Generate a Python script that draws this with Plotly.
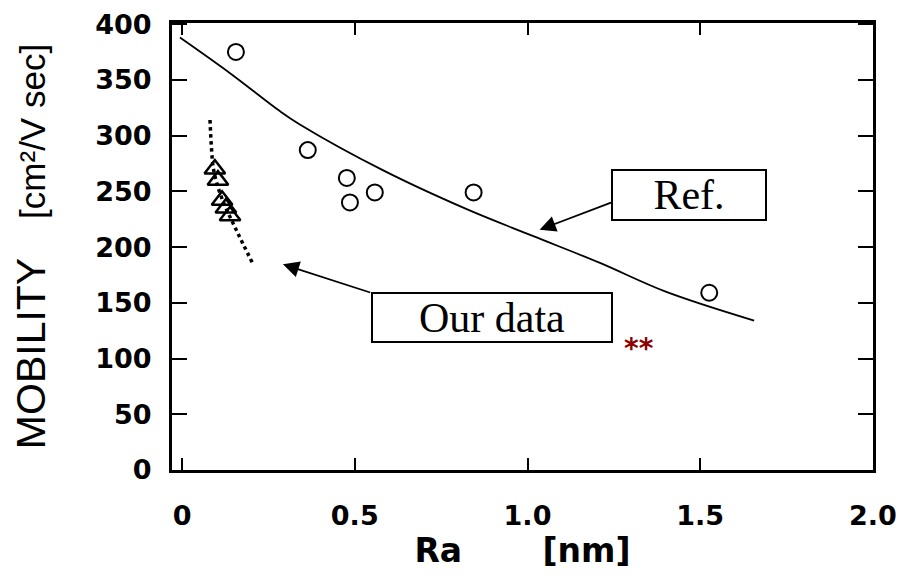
import plotly.graph_objects as go

# Reference data (circles) and reference curve
ref_x = [0.156, 0.364, 0.477, 0.486, 0.558, 0.844, 1.526]
ref_y = [375, 287, 262, 240, 249, 249, 159]

curve_x = [-0.006, 0.139, 0.283, 0.341, 0.581, 0.824, 1.015, 1.208, 1.40, 1.656]
curve_y = [388, 356, 322, 310, 269, 234, 210, 186, 160, 134]

# Our data (triangles) and dotted trend
our_x = [0.095, 0.104, 0.116, 0.127, 0.139]
our_y = [270, 260, 242, 235, 228]

trend_x = [0.081, 0.085, 0.090, 0.100, 0.120, 0.156, 0.205]
trend_y = [314, 290, 272, 258, 240, 216, 185]

x_ticks = [0, 0.5, 1.0, 1.5, 2.0]
x_labels = ["0", "0.5", "1.0", "1.5", "2.0"]
y_ticks = [0, 50, 100, 150, 200, 250, 300, 350, 400]

fig = go.Figure()

fig.add_trace(go.Scatter(x=curve_x, y=curve_y, mode="lines",
                         line=dict(color="black", width=1.8, shape="spline"),
                         showlegend=False, hoverinfo="skip"))
fig.add_trace(go.Scatter(x=trend_x, y=trend_y, mode="lines",
                         line=dict(color="black", width=3.5, dash="dot", shape="spline"),
                         showlegend=False, hoverinfo="skip"))
fig.add_trace(go.Scatter(x=ref_x, y=ref_y, mode="markers",
                         marker=dict(symbol="circle-open", size=16, color="black",
                                     line=dict(width=2)),
                         showlegend=False))
fig.add_trace(go.Scatter(x=our_x, y=our_y, mode="markers",
                         marker=dict(symbol="triangle-up-open", size=18, color="black",
                                     line=dict(width=2.5)),
                         showlegend=False))

tick_font = dict(family="DejaVu Sans", size=27, color="black", weight="bold")

fig.update_xaxes(range=[-0.029, 2.0], tickvals=x_ticks, ticktext=x_labels,
                 showline=True, linecolor="black", linewidth=3, mirror="ticks",
                 ticks="inside", ticklen=12, tickwidth=2, tickcolor="black",
                 showgrid=False, zeroline=False, tickfont=tick_font,
                 ticklabelstandoff=20, ticklabeloverflow="allow", automargin=False,
                 title=dict(text="Ra       [nm]",
                            font=dict(family="DejaVu Sans", size=33, color="black",
                                      weight="bold"),
                            standoff=4))
fig.update_yaxes(range=[0, 401], tickvals=y_ticks,
                 showline=True, linecolor="black", linewidth=3, mirror="ticks",
                 ticks="inside", ticklen=15, tickwidth=2, tickcolor="black",
                 showgrid=False, zeroline=False, tickfont=tick_font,
                 ticklabelstandoff=12, ticklabeloverflow="allow", automargin=False,
                 title=dict(text="<span style='font-size:41px'>MOBILITY</span>    [cm²/V sec]",
                            font=dict(family="Liberation Sans", size=35, color="black"),
                            standoff=40))

# Text boxes
fig.add_annotation(x=1.468, y=246.6, xref="x", yref="y", text="Ref.",
                   showarrow=False, font=dict(family="Liberation Serif", size=42, color="black"),
                   bordercolor="black", borderwidth=2, width=150, height=46, bgcolor="white")
fig.add_annotation(x=0.896, y=136.6, xref="x", yref="y", text="Our data",
                   showarrow=False, font=dict(family="Liberation Serif", size=42, color="black"),
                   bordercolor="black", borderwidth=2, width=236, height=45, bgcolor="white")

# Arrows
fig.add_annotation(x=1.035, y=215.5, ax=1.246, ay=240.4, xref="x", yref="y",
                   axref="x", ayref="y", text="", showarrow=True,
                   arrowhead=2, arrowsize=1.8, arrowwidth=1.8, arrowcolor="black")
fig.add_annotation(x=0.292, y=184.5, ax=0.549, ay=158.8, xref="x", yref="y",
                   axref="x", ayref="y", text="", showarrow=True,
                   arrowhead=2, arrowsize=1.8, arrowwidth=1.8, arrowcolor="black")

fig.add_annotation(x=1.324, y=109, xref="x", yref="y", text="<b>**</b>",
                   showarrow=False, font=dict(family="DejaVu Sans", size=28, color="#8B0000"))

# page body adds an 8px offset, compensated in the margins
fig.update_layout(width=899, height=573, paper_bgcolor="white", plot_bgcolor="white",
                  margin=dict(l=164, r=34, t=15, b=111))

fig.write_html("out.html")
